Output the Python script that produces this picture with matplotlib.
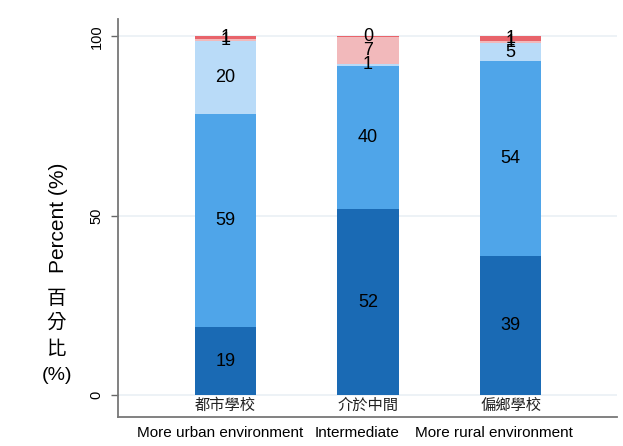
import matplotlib.pyplot as plt
import numpy as np

plt.rcParams['font.family'] = ['Liberation Sans', 'Noto Sans CJK TC', 'DejaVu Sans']

# categories (Chinese labels inside the plot, English under the axis)
groups_zh = ['都市學校', '介於中間', '偏鄉學校']
groups_en = ['More urban environment', 'Intermediate', 'More rural environment']

# stacked shares (%) per response level, bottom to top
level1 = [18.9, 51.8, 38.8]
level2 = [59.4, 39.9, 54.4]
level3 = [20.3, 0.6, 4.8]
level4 = [0.6, 7.4, 0.7]
level5 = [0.8, 0.3, 1.3]

yticks = [0, 50, 100]

colors = ['#1a6ab4', '#4fa5e9', '#b9dbf8', '#f2b9bb', '#e8636a']
series = [level1, level2, level3, level4, level5]

fig = plt.figure(figsize=(6.23, 4.46), dpi=100)
ax = fig.add_axes([117.5 / 623, 29 / 446, (617 - 117.5) / 623, (417 - 19) / 446])

x = np.arange(len(groups_zh))
bottom = np.zeros(len(x))
for vals, c in zip(series, colors):
    vals = np.array(vals)
    ax.bar(x, vals, 0.43, bottom=bottom, color=c, edgecolor='none', zorder=2)
    for xi, b, v in zip(x, bottom, vals):
        ax.text(xi, b + v / 2, f'{v:.0f}', ha='center', va='center',
                fontsize=13, color='black', zorder=3)
    bottom += vals

ax.set_xlim(-0.758, 2.747)
ax.set_ylim(-6.1, 104.8)

# grid + ticks
for t in yticks:
    ax.axhline(t, color='#eaf0f5', lw=1.2, zorder=1)
ax.set_yticks(yticks)
ax.set_yticklabels([str(t) for t in yticks], rotation=90, va='center', fontsize=10.5)
ax.tick_params(axis='y', length=5, width=1, color='#666666', pad=5)
ax.set_xticks([])

for s in ['top', 'right']:
    ax.spines[s].set_visible(False)
for s in ['left', 'bottom']:
    ax.spines[s].set_color('#777777')
    ax.spines[s].set_linewidth(1.3)

# Chinese category names inside the plot, just above the axis line
for xi, lab in zip(x, groups_zh):
    ax.text(xi, -2.9, lab, ha='center', va='center', fontsize=11,
            family=['Noto Sans CJK TC', 'DejaVu Sans'], color='#222222')

# English names below the axis
en_px = [220, 357, 494]
for px, lab in zip(en_px, groups_en):
    fig.text(px / 623, 1 - 433 / 446, lab, ha='center', va='center', fontsize=11)

# y title: rotated English, then stacked Chinese characters
fig.text(59 / 623, 1 - 218 / 446, 'Percent (%)', rotation=90, ha='center', va='center', fontsize=15)
for ch, py in zip(['百', '分', '比'], [298, 322, 349]):
    fig.text(56 / 623, 1 - py / 446, ch, ha='center', va='center', fontsize=14,
             family=['Noto Sans CJK TC', 'DejaVu Sans'])
fig.text(57 / 623, 1 - 376 / 446, '(%)', ha='center', va='center', fontsize=14)

fig.savefig('out.png', dpi=100)
